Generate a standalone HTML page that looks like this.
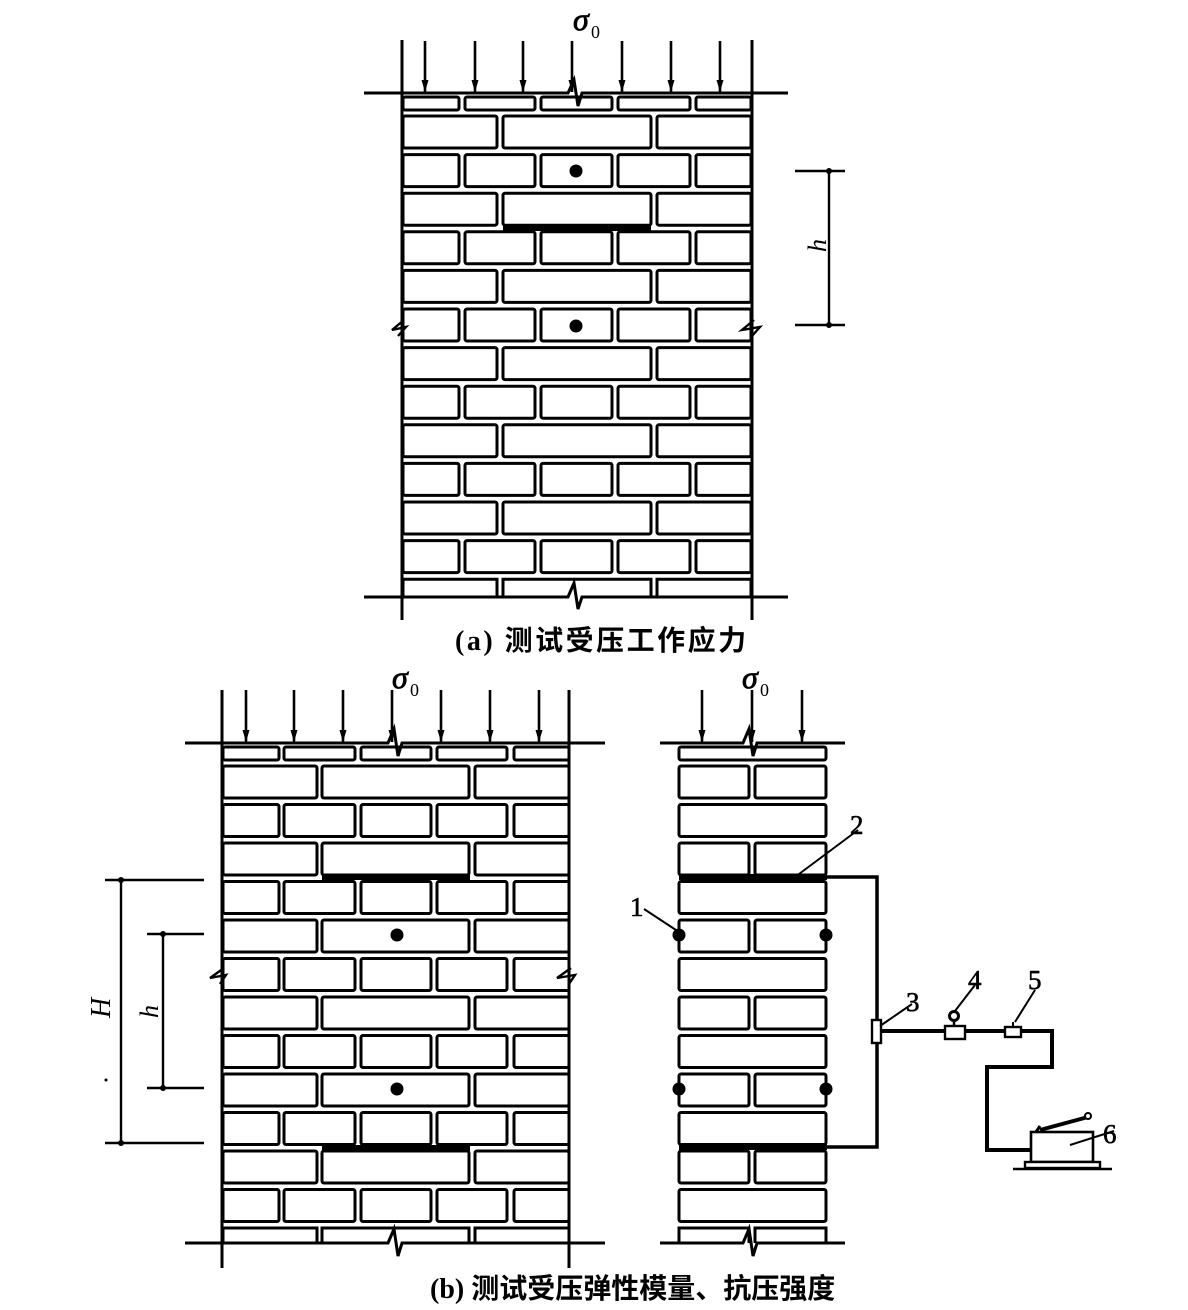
<!DOCTYPE html>
<html><head><meta charset="utf-8"><style>
html,body{margin:0;padding:0;background:#fff;}
svg{display:block;}
text{font-family:"Liberation Serif","Noto Serif CJK SC",serif;fill:#000;}
.cap{font-family:"Liberation Serif","Noto Sans CJK SC",serif;font-weight:bold;font-size:28px;}
.num{font-size:27px;stroke:#000;stroke-width:0.6;}
</style></head><body>
<svg id="s" width="1188" height="1310" viewBox="0 0 1188 1310" xmlns="http://www.w3.org/2000/svg">
<g id="g" fill="none" stroke="#000" stroke-width="3"></g>
<text x="573" y="30" font-size="32" font-style="italic" stroke="#000" stroke-width="0.8">σ</text><text x="591" y="38" font-size="18">0</text>
<text x="392" y="688" font-size="32" font-style="italic" stroke="#000" stroke-width="0.8">σ</text><text x="410" y="696" font-size="18">0</text>
<text x="742" y="688" font-size="32" font-style="italic" stroke="#000" stroke-width="0.8">σ</text><text x="760" y="696" font-size="18">0</text>
<text transform="translate(826,252) rotate(-90)" font-size="26" font-style="italic">h</text>
<text transform="translate(110,1018) rotate(-90)" font-size="28" font-style="italic">H</text>
<text transform="translate(158,1018) rotate(-90)" font-size="26" font-style="italic">h</text>
<text class="num" x="630" y="916">1</text>
<text class="num" x="850" y="834">2</text>
<text class="num" x="906" y="1011">3</text>
<text class="num" x="968" y="989">4</text>
<text class="num" x="1028" y="989">5</text>
<text class="num" x="1103" y="1143">6</text>
<text class="cap" x="455" y="650" letter-spacing="2.5">(a) 测试受压工作应力</text>
<text class="cap" x="430" y="1298" letter-spacing="0">(b) 测试受压弹性模量、抗压强度</text>
</svg>
<script>
var g=document.getElementById('g'),NS='http://www.w3.org/2000/svg';
function el(t,a){var e=document.createElementNS(NS,t);for(var k in a)e.setAttribute(k,a[k]);g.appendChild(e);return e;}
function L(x1,y1,x2,y2,w){el('line',{x1:x1,y1:y1,x2:x2,y2:y2,'stroke-width':w||3});}
function P(d,w,f){el('path',{d:d,'stroke-width':w||3,fill:f||'none'});}
function R(x1,y1,x2,y2){el('rect',{x:x1,y:y1,width:x2-x1,height:y2-y1,rx:2});}
function C(x,y,r){el('circle',{cx:x,cy:y,r:r,fill:'#000',stroke:'none'});}
function arr(x,y1,y2){L(x,y1,x,y2,2.6);el('path',{d:'M'+(x-3.5)+' '+(y2-12)+' L'+(x+3.5)+' '+(y2-12)+' L'+x+' '+y2+'Z',fill:'#000',stroke:'none'});}
// ---- (a)
var A3=[[403,497],[503,651],[657,751]],A5=[[403,459],[465,535],[541,612],[618,690],[696,751]];
for(var i=0;i<14;i++){
  var y=116+(i-1)*38.6,lay=(i%2==1)?A3:A5;
  for(var j=0;j<lay.length;j++){
   if(i==0)R(lay[j][0],97,lay[j][1],110);
   else if(i==13)P('M'+lay[j][0]+' 597 L'+lay[j][0]+' '+y+' L'+lay[j][1]+' '+y+' L'+lay[j][1]+' 597');
   else R(lay[j][0],y,lay[j][1],y+32);
  }
}
L(402,40,402,620);L(752,40,752,620);
P('M364 93 L568 93 L574 80 L578 106 L582 93 L788 93');
P('M364 597 L568 597 L574 583 L578 609 L582 597 L788 597');
[425,475,523,572,622,671,720].forEach(function(x){arr(x,41,92);});
el('rect',{x:503,y:225,width:148,height:6,fill:'#000',stroke:'none'});
C(576,171,6.5);C(576,326,6.5);
P('M404 320 L392 330 L406 327 L398 336',2.4);P('M754 320 L742 330 L760 327 L752 336',2.4);
L(829,171,829,325,2.4);L(795,171,845,171,2.4);L(795,325,845,325,2.4);C(829,171,3);C(829,325,3);
// ---- (b) left
var B3=[[223,317],[322,469],[475,569]],B5=[[223,279],[284,355],[361,431],[437,507],[514,569]];
for(var i=0;i<14;i++){
 var y=766+(i-1)*38.5,lay=(i%2==1)?B3:B5;
 for(var j=0;j<lay.length;j++){
  if(i==0)R(lay[j][0],747,lay[j][1],760);
  else if(i==13)P('M'+lay[j][0]+' 1243 L'+lay[j][0]+' '+y+' L'+lay[j][1]+' '+y+' L'+lay[j][1]+' 1243');
  else R(lay[j][0],y,lay[j][1],y+32);
 }
}
L(222,690,222,1268);L(569,690,569,1268);
P('M185 743 L388 743 L394 729 L398 756 L402 743 L605 743');
P('M185 1243 L388 1243 L394 1229 L398 1256 L402 1243 L605 1243');
[246,294,343,392,441,490,539].forEach(function(x){arr(x,690,742);});
el('rect',{x:322,y:874,width:148,height:6,fill:'#000',stroke:'none'});
el('rect',{x:322,y:1145,width:148,height:6,fill:'#000',stroke:'none'});
C(397,935,6.5);C(397,1089,6.5);
P('M224 968 L210 978 L226 975 L220 984',2.4);P('M571 968 L557 978 L575 975 L569 984',2.4);
L(121,880,121,1143,2.4);L(105,880,204,880,2.4);L(105,1143,204,1143,2.4);C(121,880,3);C(121,1143,3);
L(163,934,163,1088,2.4);L(147,934,204,934,2.4);L(147,1088,204,1088,2.4);C(163,934,3);C(163,1088,3);
C(106,1080,1.5);
// ---- (b) right
var T2=[[679,749],[755,826]],T1=[[679,826]];
for(var i=0;i<14;i++){
 var y=766+(i-1)*38.5,lay=(i%2==1)?T2:T1;
 for(var j=0;j<lay.length;j++){
  if(i==0)R(679,747,826,760);
  else if(i==13)P('M'+lay[j][0]+' 1243 L'+lay[j][0]+' '+y+' L'+lay[j][1]+' '+y+' L'+lay[j][1]+' 1243');
  else R(lay[j][0],y,lay[j][1],y+32);
 }
}
P('M660 743 L743 743 L749 729 L753 756 L757 743 L845 743');
P('M660 1243 L743 1243 L749 1229 L753 1256 L757 1243 L845 1243');
[702,752,802].forEach(function(x){arr(x,690,742);});
el('rect',{x:679,y:874,width:148,height:6,fill:'#000',stroke:'none'});
el('rect',{x:679,y:1144,width:148,height:6,fill:'#000',stroke:'none'});
C(679,935,6.5);C(826,935,6.5);C(679,1089,6.5);C(826,1089,6.5);
// pipe
P('M826 877 L877 877 L877 1147 L826 1147',3.5);
P('M880 1031 L1052 1031 L1052 1067 L987 1067 L987 1150 L1031 1150',4);
el('rect',{x:872,y:1020,width:9,height:23,fill:'#fff','stroke-width':2.4});
el('rect',{x:945,y:1026,width:20,height:13,fill:'#fff','stroke-width':2.4});
el('circle',{cx:954,cy:1016,r:4.5,fill:'#fff','stroke-width':3});L(954,1020,954,1026,2.5);
el('rect',{x:1005,y:1027,width:16,height:10,fill:'#fff','stroke-width':2.4});L(1013,1022,1013,1027,2);
// pump
el('rect',{x:1031,y:1132,width:62,height:30,fill:'#fff','stroke-width':2.6});
el('rect',{x:1025,y:1162,width:75,height:6,fill:'#fff','stroke-width':2.4});
L(1013,1169,1112,1169,2.4);
L(1040,1130,1088,1117,4);el('circle',{cx:1088,cy:1116,r:3,fill:'#fff','stroke-width':2});
L(1036,1132,1040,1126,3);
// leaders
L(644,909,679,932,2);L(858,830,795,877,2);L(912,1004,880,1026,2);L(975,985,955,1011,2);L(1035,990,1015,1022,2);L(1114,1131,1070,1145,2);
</script>
</body></html>
